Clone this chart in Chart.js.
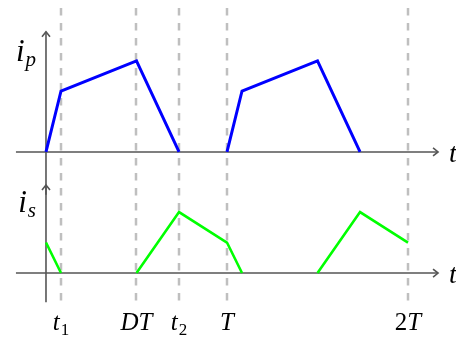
<!DOCTYPE html>
<html>
<head>
<meta charset="utf-8">
<script src="https://cdn.jsdelivr.net/npm/chart.js@4.4.1/dist/chart.umd.min.js"></script>
<style>
  html,body{margin:0;padding:0;background:#fff;}
  #wrap{width:456px;height:338px;}
</style>
</head>
<body>
<div id="wrap"><canvas id="c" width="456" height="338"></canvas></div>
<script>
// ---- data (time in units of T, currents in arbitrary units) ----
const tickValues = [0.083, 0.5, 0.735, 1, 2];
const tickLabels = [["t","1"], ["DT",""], ["t","2"], ["T",""], ["2T",""]];
const ipTime  = [0, 0.083, 0.5, 0.735, 0.86, 1, 1.083, 1.5, 1.735];
const ipValue = [0, 0.67, 1.0, 0, null, 0, 0.67, 1.0, 0];
const isTime  = [0, 0.083, 0.29, 0.5, 0.735, 1, 1.083, 1.29, 1.5, 1.735, 2];
const isValue = [0.335, 0, null, 0, 0.67, 0.335, 0, null, 0, 0.67, 0.335];

const toPts = (xs, ys) => xs.map((v, i) => ({x: v, y: ys[i]}));

const FONT = '"Liberation Serif", "DejaVu Serif", serif';

function arrow(ctx, x, y, dir) {
  ctx.beginPath();
  if (dir === 'up') {
    ctx.moveTo(x - 4, y + 5); ctx.lineTo(x, y); ctx.lineTo(x + 4, y + 5);
  } else {
    ctx.moveTo(x - 5, y - 4); ctx.lineTo(x, y); ctx.lineTo(x - 5, y + 4);
  }
  ctx.stroke();
}

function fontFor(ch, size) {
  return (/[0-9]/.test(ch) ? '' : 'italic ') + size + 'px ' + FONT;
}

function mathLabel(ctx, main, sub, x, y, size, subSize, subDrop, align) {
  const parts = [];
  for (const ch of main) parts.push({t: ch, f: fontFor(ch, size), dy: 0, gap: 0});
  let first = true;
  for (const ch of sub) { parts.push({t: ch, f: fontFor(ch, subSize), dy: subDrop, gap: first ? 1 : 0}); first = false; }
  let w = 0;
  parts.forEach(p => { ctx.font = p.f; p.w = ctx.measureText(p.t).width; w += p.w + p.gap; });
  let cx = align === 'center' ? x - w / 2 : (align === 'right' ? x - w : x);
  ctx.textAlign = 'left';
  ctx.textBaseline = 'alphabetic';
  parts.forEach(p => {
    ctx.font = p.f;
    cx += p.gap;
    ctx.fillText(p.t, cx, y + p.dy);
    cx += p.w;
  });
}

const decor = {
  id: 'decor',
  beforeDatasetsDraw(chart) {
    const ctx = chart.ctx;
    const x = chart.scales.x, yp = chart.scales.yp, ys = chart.scales.ys;
    ctx.save();
    ctx.strokeStyle = '#bfbfbf';
    ctx.lineWidth = 2.5;
    ctx.setLineDash([7.5, 7.5]);
    tickValues.forEach(v => {
      const px = Math.round(x.getPixelForValue(v));
      ctx.beginPath(); ctx.moveTo(px, 8); ctx.lineTo(px, 303); ctx.stroke();
    });
    ctx.setLineDash([]);
    ctx.strokeStyle = '#555';
    ctx.lineWidth = 1.6;
    const x0 = x.getPixelForValue(0);
    const xl = x.getPixelForValue(-0.166), xr = x.getPixelForValue(2.166);
    const p0 = yp.getPixelForValue(0), s0 = ys.getPixelForValue(0);
    ctx.beginPath(); ctx.moveTo(xl, p0); ctx.lineTo(xr, p0); ctx.stroke();
    arrow(ctx, xr, p0, 'right');
    const pt = yp.getPixelForValue(1.32), pb = yp.getPixelForValue(-0.47);
    ctx.beginPath(); ctx.moveTo(x0, pb); ctx.lineTo(x0, pt); ctx.stroke();
    arrow(ctx, x0, pt, 'up');
    ctx.beginPath(); ctx.moveTo(xl, s0); ctx.lineTo(xr, s0); ctx.stroke();
    arrow(ctx, xr, s0, 'right');
    const st = ys.getPixelForValue(0.967), sb = ys.getPixelForValue(-0.32);
    ctx.beginPath(); ctx.moveTo(x0, sb); ctx.lineTo(x0, st); ctx.stroke();
    arrow(ctx, x0, st, 'up');
    ctx.restore();
  },
  afterDraw(chart) {
    const ctx = chart.ctx;
    const x = chart.scales.x, yp = chart.scales.yp, ys = chart.scales.ys;
    ctx.save();
    ctx.fillStyle = '#000';
    tickValues.forEach((v, i) => {
      const [m, s] = tickLabels[i];
      mathLabel(ctx, m, s, x.getPixelForValue(v), 330, 25, 17, 5, 'center');
    });
    const xr = x.getPixelForValue(2.166);
    mathLabel(ctx, 't', '', xr + 11, yp.getPixelForValue(0) + 10, 28, 0, 0, 'left');
    mathLabel(ctx, 't', '', xr + 11, ys.getPixelForValue(0) + 10, 28, 0, 0, 'left');
    mathLabel(ctx, 'i', 'p', 36, 61, 31, 21, 5, 'right');
    mathLabel(ctx, 'i', 's', 36, 212, 31, 21, 5, 'right');
    ctx.restore();
  }
};

new Chart(document.getElementById('c'), {
  type: 'line',
  data: {
    datasets: [
      { label: 'ip', data: toPts(ipTime, ipValue), yAxisID: 'yp',
        borderColor: '#0000ff', borderWidth: 3, pointRadius: 0, tension: 0,
        spanGaps: false, borderJoinStyle: 'miter', clip: false, fill: false },
      { label: 'is', data: toPts(isTime, isValue), yAxisID: 'ys',
        borderColor: '#00ff00', borderWidth: 2.6, pointRadius: 0, tension: 0,
        spanGaps: false, borderJoinStyle: 'miter', clip: false, fill: false }
    ]
  },
  options: {
    responsive: false,
    animation: false,
    devicePixelRatio: 1,
    layout: { padding: 0 },
    plugins: { legend: { display: false }, tooltip: { enabled: false } },
    events: [],
    scales: {
      x: { type: 'linear', min: -0.2541, max: 2.2652, display: false },
      yp: { type: 'linear', position: 'left', min: -2.044, max: 1.670, display: false },
      ys: { type: 'linear', position: 'left', min: -0.714, max: 3.0, display: false }
    }
  },
  plugins: [decor]
});
</script>
</body>
</html>
